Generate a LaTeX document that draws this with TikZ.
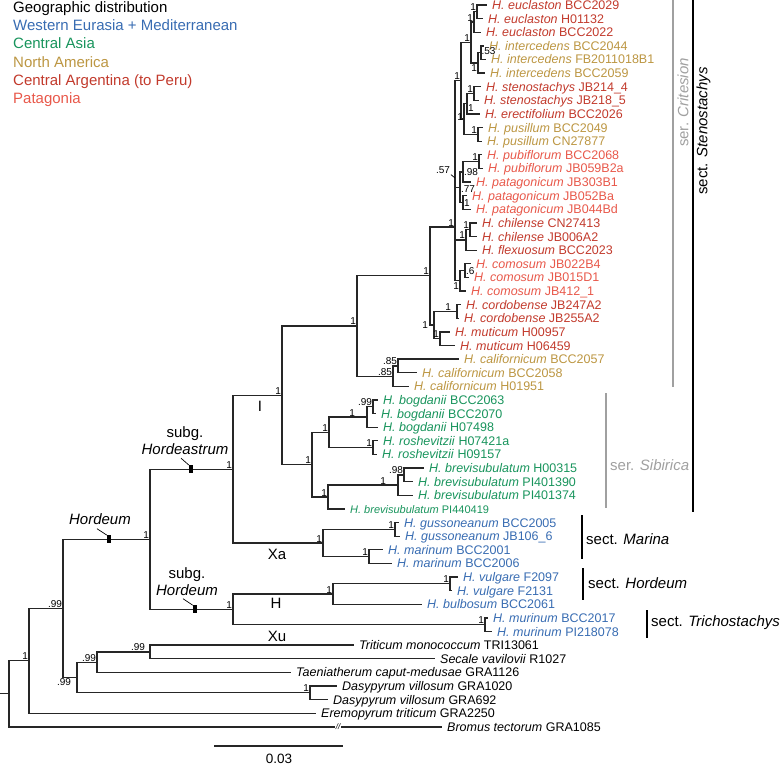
\documentclass[tikz,border=0pt]{standalone}
\usepackage{fontspec}
\setmainfont{Liberation Sans}
\usepackage{xcolor}
\usepackage{tikz}

\definecolor{weur}{RGB}{56,108,178}
\definecolor{casia}{RGB}{24,148,92}
\definecolor{namer}{RGB}{188,150,66}
\definecolor{carg}{RGB}{194,58,44}
\definecolor{patag}{RGB}{232,88,74}
\definecolor{sergray}{RGB}{160,160,160}

\tikzset{
  branch/.style={line width=1.3pt, black!85},
  leaf/.style={anchor=west, inner sep=0pt, xshift=5pt, text height=9pt, text depth=0pt, font=\fontsize{12.5}{14}\selectfont},
  supp/.style={anchor=south east, inner sep=0.8pt, text height=7.2pt, text depth=0pt, font=\fontsize{10}{12}\selectfont},
  legend/.style={anchor=west, inner sep=0pt, text height=10.8pt, text depth=0pt, font=\fontsize{15}{18}\selectfont},
  bigtext/.style={inner sep=0pt, font=\fontsize{15}{17}\selectfont},
  sectbar/.style={line width=1.6pt},
  serbar/.style={line width=1.6pt, sergray},
  taxmark/.style={fill=black, draw=none, minimum width=4pt, minimum height=8pt, inner sep=0pt},
  tick/.style={line width=0.7pt}
}

\begin{document}
\begin{tikzpicture}[x=1pt,y=-1pt]
\useasboundingbox (0,0) rectangle (780,766);

% legend
\node[legend] (lg0) at (13,7) {Geographic distribution};
\node[legend,text=weur] (lg1) at (13,25) {Western Eurasia + Mediterranean};
\node[legend,text=casia] (lg2) at (13,43) {Central Asia};
\node[legend,text=namer] (lg3) at (13,62) {North America};
\node[legend,text=carg] (lg4) at (13,80) {Central Argentina (to Peru)};
\node[legend,text=patag] (lg5) at (13,98) {Patagonia};

% inner nodes (x of the vertical, y of the incoming branch)
\coordinate (nEU1) at (477,11.8);
\coordinate (nEU2) at (474,22.0);
\coordinate (nIN1) at (481,52.7);
\coordinate (nIN2) at (478,62.9);
\coordinate (nEI) at (471,42.5);
\coordinate (nST1) at (474,93.5);
\coordinate (nST2) at (467,103.7);
\coordinate (nPUS) at (478,134.4);
\coordinate (nN2) at (464,119.1);
\coordinate (nUPP) at (461,80.8);
\coordinate (nPUB) at (479,161.6);
\coordinate (nN98) at (463,171.9);
\coordinate (nPAT) at (463,202.5);
\coordinate (nN77) at (460,187.2);
\coordinate (nCH1) at (470,229.7);
\coordinate (nCHF) at (466,239.9);
\coordinate (nCO1) at (465,270.6);
\coordinate (nCOM) at (460,280.8);
\coordinate (nSA1) at (455,227);
\coordinate (nCORD) at (457,311.5);
\coordinate (nMUT) at (440,338.7);
\coordinate (nAA) at (434,325.1);
\coordinate (nZ) at (430,275.5);
\coordinate (nY85) at (398,365.9);
\coordinate (nX85) at (393,376.2);
\coordinate (nW) at (357,325.9);
\coordinate (nU99) at (373,406.8);
\coordinate (nT) at (367,417.0);
\coordinate (nRO) at (373,447.6);
\coordinate (nP) at (329,432.3);
\coordinate (nS98) at (404,474.9);
\coordinate (nR) at (398,485.1);
\coordinate (nQ) at (328,497.0);
\coordinate (nO) at (312,464.7);
\coordinate (nI) at (282,395.3);
\coordinate (nGUS) at (395,529.3);
\coordinate (nMAR) at (369,556.6);
\coordinate (nJ) at (323,543.0);
\coordinate (nH) at (233,469.2);
\coordinate (nVUL) at (450,583.8);
\coordinate (nN) at (333,594.0);
\coordinate (nMUR) at (485,624.7);
\coordinate (nM) at (233,609.4);
\coordinate (nG) at (150,539.3);
\coordinate (nE) at (150,651.9);
\coordinate (nD) at (97,662.2);
\coordinate (nF) at (310,692.8);
\coordinate (nC) at (77,677.5);
\coordinate (nB) at (63,608.4);
\coordinate (nA) at (29,660.8);
\coordinate (nroot) at (9,693.8);
\coordinate (rstub) at (0,693.8);

% leaves
\foreach \i/\x/\col/\sname/\accn in {
  1/487/carg/H. euclaston/BCC2029,
  2/483/carg/H. euclaston/H01132,
  3/481/carg/H. euclaston/BCC2022,
  4/484/namer/H. intercedens/BCC2044,
  5/486/namer/H. intercedens/FB2011018B1,
  6/485/namer/H. intercedens/BCC2059,
  7/481/carg/H. stenostachys/JB214\_4,
  8/479/carg/H. stenostachys/JB218\_5,
  9/480/carg/H. erectifolium/BCC2026,
  10/483/namer/H. pusillum/BCC2049,
  11/482/namer/H. pusillum/CN27877,
  12/482/patag/H. pubiflorum/BCC2068,
  13/483/patag/H. pubiflorum/JB059B2a,
  14/471/patag/H. patagonicum/JB303B1,
  15/467/patag/H. patagonicum/JB052Ba,
  16/471/patag/H. patagonicum/JB044Bd,
  17/477/carg/H. chilense/CN27413,
  18/477/carg/H. chilense/JB006A2,
  19/477/carg/H. flexuosum/BCC2023,
  20/471/patag/H. comosum/JB022B4,
  21/469/patag/H. comosum/JB015D1,
  22/466/patag/H. comosum/JB412\_1,
  23/461/carg/H. cordobense/JB247A2,
  24/459/carg/H. cordobense/JB255A2,
  25/450/carg/H. muticum/H00957,
  26/455/carg/H. muticum/H06459,
  27/459/namer/H. californicum/BCC2057,
  28/417/namer/H. californicum/BCC2058,
  29/409/namer/H. californicum/H01951,
  30/378/casia/H. bogdanii/BCC2063,
  31/376/casia/H. bogdanii/BCC2070,
  32/378/casia/H. bogdanii/H07498,
  33/378/casia/H. roshevitzii/H07421a,
  34/377/casia/H. roshevitzii/H09157,
  35/424/casia/H. brevisubulatum/H00315,
  36/413/casia/H. brevisubulatum/PI401390,
  37/413/casia/H. brevisubulatum/PI401374,
  39/399/weur/H. gussoneanum/BCC2005,
  40/400/weur/H. gussoneanum/JB106\_6,
  41/383/weur/H. marinum/BCC2001,
  42/392/weur/H. marinum/BCC2006,
  43/458/weur/H. vulgare/F2097,
  44/452/weur/H. vulgare/F2131,
  45/422/weur/H. bulbosum/BCC2061,
  46/488/weur/H. murinum/BCC2017,
  47/492/weur/H. murinum/PI218078,
  48/354/black/Triticum monococcum/TRI13061,
  49/435/black/Secale vavilovii/R1027,
  50/291/black/Taeniatherum caput-medusae/GRA1126,
  51/337/black/Dasypyrum villosum/GRA1020,
  52/328/black/Dasypyrum villosum/GRA692,
  53/316/black/Eremopyrum triticum/GRA2250,
  54/442/black/Bromus tectorum/GRA1085}{
  \pgfmathsetmacro\yy{5+13.62*(\i-1)}
  \coordinate (t\i) at (\x,\yy);
  \node[leaf,text=\col] (l\i) at (t\i) {\textit{\sname} \accn};
}
\coordinate (t38) at (345,508.9);
\node[leaf,text=casia,font=\fontsize{11}{12}\selectfont] (l38) at (t38) {\textit{H. brevisubulatum} PI440419};

% branches
\draw[branch] (rstub) -- (nroot);
\foreach \p/\q in {nEU1/t1,nEU1/t2,nEU2/nEU1,nEU2/t3,
  nIN1/t4,nIN1/t5,nIN2/nIN1,nIN2/t6,nEI/nEU2,nEI/nIN2,
  nST1/t7,nST1/t8,nST2/nST1,nST2/t9,nPUS/t10,nPUS/t11,
  nN2/nST2,nN2/nPUS,nUPP/nEI,nUPP/nN2,
  nPUB/t12,nPUB/t13,nN98/nPUB,nN98/t14,nPAT/t15,nPAT/t16,nN77/nN98,nN77/nPAT,
  nCH1/t17,nCH1/t18,nCHF/nCH1,nCHF/t19,nCO1/t20,nCO1/t21,nCOM/nCO1,nCOM/t22,
  nSA1/nUPP,nSA1/nN77,nSA1/nCHF,nSA1/nCOM,
  nCORD/t23,nCORD/t24,nMUT/t25,nMUT/t26,nAA/nCORD,nAA/nMUT,nZ/nSA1,nZ/nAA,
  nY85/t27,nY85/t28,nX85/nY85,nX85/t29,nW/nZ,nW/nX85,
  nU99/t30,nU99/t31,nT/nU99,nT/t32,nRO/t33,nRO/t34,nP/nT,nP/nRO,
  nS98/t35,nS98/t36,nR/nS98,nR/t37,nQ/nR,nQ/t38,nO/nP,nO/nQ,nI/nW,nI/nO,
  nGUS/t39,nGUS/t40,nMAR/t41,nMAR/t42,nJ/nGUS,nJ/nMAR,nH/nI,nH/nJ,
  nVUL/t43,nVUL/t44,nN/nVUL,nN/t45,nMUR/t46,nMUR/t47,nM/nN,nM/nMUR,
  nG/nH,nG/nM,nE/t48,nE/t49,nD/nE,nD/t50,nF/t51,nF/t52,nC/nD,nC/nF,
  nB/nG,nB/nC,nA/nB,nA/t53,nroot/nA,nroot/t54}
  \draw[branch] (\p) |- (\q);

% support values
\foreach \p/\v in {EU1/1,EU2/1,EI/1,ST1/1,PUS/1,UPP/1,PUB/1,SA1/1,CH1/1,CHF/1,
  MUT/1,Z/1,Y85/.85,X85/.85,W/1,U99/.99,RO/1,P/1,S98/.98,Q/1,O/1,I/1,
  GUS/1,MAR/1,J/1,H/1,VUL/1,N/1,MUR/1,M/1,G/1,D/.99,F/1,B/.99,A/1}
  \node[supp] (s\p) at (n\p) {\v};
\node[supp,anchor=west,yshift=1.5pt,inner sep=0.3pt] (sIN1) at (nIN1) {.53};
\node[supp,anchor=north east] (sIN2) at (nIN2) {1};
\node[supp,anchor=north west] (sST2) at (nST2) {1};
\node[supp,yshift=-2pt] (sN2) at (nN2) {1};
\node[supp,anchor=west] (sN98) at (nN98) {.98};
\node[supp,anchor=west,yshift=-2pt] (sN77) at (nN77) {.77};
\node[supp,anchor=west] (sPAT) at (nPAT) {1};
\node[supp,anchor=west] (sCO1) at (nCO1) {.6};
\node[supp,anchor=north east] (sCOM) at (nCOM) {1};
\node[supp,xshift=-5pt] (sCORD) at (nCORD) {1};
\node[supp,anchor=east,xshift=-5pt] (sAA) at (nAA) {1};
\node[supp,xshift=-11pt] (sT) at (nT) {1};
\node[supp,xshift=-11pt] (sR) at (nR) {1};
\node[supp,xshift=-4pt] (sE) at (nE) {.99};
\node[supp,anchor=north east,xshift=-5pt] (sC) at (nC) {.99};
\node[supp,anchor=center] (s57) at (443,170) {.57};
\coordinate (k57) at (455,178);
\draw[tick] (s57.south east) -- (k57);

% taxon marks
\node[taxmark] (mkHord) at (109,0 |- nG) {};
\node[bigtext,font=\fontsize{15}{17}\selectfont\itshape] (lbHord) at (100,519) {Hordeum};
\draw[tick] ([xshift=-3pt,yshift=-4pt]lbHord.south) -- (mkHord.north west);
\node[taxmark] (mkAstr) at (191,0 |- nH) {};
\node[bigtext,align=center] (lbAstr) at (185,441) {subg.\\\textit{Hordeastrum}};
\draw[tick] ([xshift=-4pt,yshift=-3pt]lbAstr.south) -- (mkAstr.north west);
\node[taxmark] (mkSubH) at (195,0 |- nM) {};
\node[bigtext,align=center] (lbSubH) at (187,581.5) {subg.\\\textit{Hordeum}};
\draw[tick] ([xshift=-4pt,yshift=-3pt]lbSubH.south) -- (mkSubH.north west);

% genome letters
\node[bigtext] (gI) at (260,406) {I};
\node[bigtext] (gXa) at (277,554) {Xa};
\node[bigtext] (gH) at (276,603) {H};
\node[bigtext] (gXu) at (277,636) {Xu};

% broken branch of Bromus
\node[fill=white,inner sep=0.6pt,font=\fontsize{8}{9}\selectfont\itshape] (brk) at (338,726.8) {//};

% series and sections
\draw[serbar] (673,0) -- (673,387);
\node[legend,anchor=center,rotate=90,text=sergray] (serCrit) at (683,102.5) {ser. \textit{Critesion}};
\draw[sectbar] (693,0) -- (693,512);
\node[legend,anchor=center,rotate=90] (sectSten) at (702,131) {sect. \textit{Stenostachys}};
\draw[serbar] (606,393) -- (606,508);
\node[legend,text=sergray] (serSib) at (610,465) {ser. \textit{Sibirica}};
\draw[sectbar] (582,515) -- (582,559);
\node[legend] (sectMar) at (586,539) {sect. \textit{Marina}};
\draw[sectbar] (583,568) -- (583,600);
\node[legend] (sectHor) at (588,583) {sect. \textit{Hordeum}};
\draw[sectbar] (647,610) -- (647,638);
\node[legend] (sectTri) at (651,621) {sect. \textit{Trichostachys}};

% scale bar
\coordinate (sb1) at (214,746);
\coordinate (sb2) at (343,746);
\draw[branch] (sb1) -- (sb2);
\node[inner sep=0pt,text height=9.5pt,text depth=0pt,font=\fontsize{13.5}{15}\selectfont] (sbl) at (279,759) {0.03};
\end{tikzpicture}
\end{document}
